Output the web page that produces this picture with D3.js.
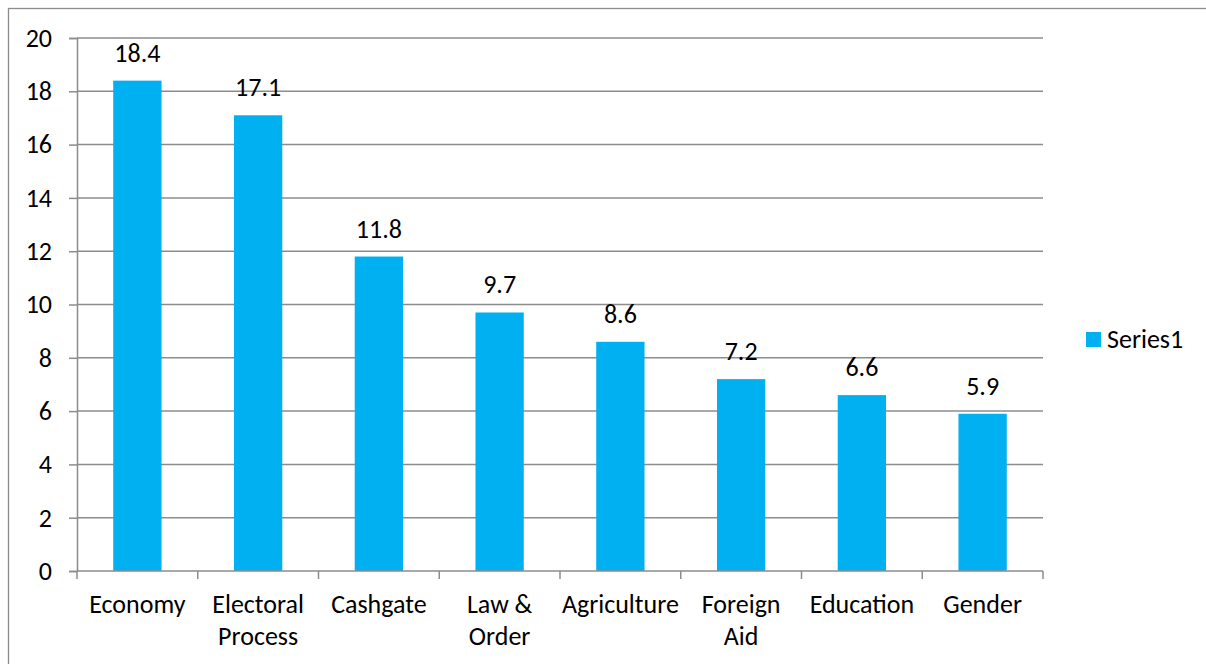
<!DOCTYPE html>
<html><head><meta charset="utf-8">
<script src="https://cdn.jsdelivr.net/npm/d3@7"></script>
<style>html,body{margin:0;padding:0;background:#fff;}svg{display:block;}</style>
</head><body>
<script>
const categories = [["Economy"],["Electoral","Process"],["Cashgate"],["Law &","Order"],["Agriculture"],["Foreign","Aid"],["Education"],["Gender"]];
const values = [18.4, 17.1, 11.8, 9.7, 8.6, 7.2, 6.6, 5.9];
const yTicks = [0,2,4,6,8,10,12,14,16,18,20];
const seriesName = "Series1";

(function() {
const W = 1206, H = 664;
const font = "Carlito, Lato, 'Liberation Sans', sans-serif";
const fs = 26;
const svg = d3.select("body").append("svg").attr("width", W).attr("height", H);

svg.append("rect").attr("x", 8.5).attr("y", 8.5).attr("width", 1300).attr("height", 800)
  .attr("fill", "none").attr("stroke", "#8c8c8c").attr("stroke-width", 1.3);

const pl = 77, pr = 1043, pt = 38, pb = 571;
const keys = categories.map(c => c.join(" "));
const x = d3.scaleBand().domain(keys).range([pl, pr]).paddingInner(0.6).paddingOuter(0.3);
const xb = d3.scaleBand().domain(keys).range([pl, pr]);
const y = d3.scaleLinear().domain([0, 20]).range([pb, pt]);

const grid = "#8c8c8c";
svg.append("g").selectAll("line").data(yTicks.filter(d => d > 0)).join("line")
  .attr("x1", pl).attr("x2", pr).attr("y1", d => y(d)).attr("y2", d => y(d))
  .attr("stroke", grid).attr("stroke-width", 1.5);

svg.append("g").selectAll("rect").data(values).join("rect")
  .attr("x", (d, i) => x(keys[i])).attr("width", x.bandwidth())
  .attr("y", d => y(d)).attr("height", d => y(0) - y(d))
  .attr("fill", "#00B0F0");

const yAxis = svg.append("g").attr("transform", `translate(${pl},0)`)
  .call(d3.axisLeft(y).tickValues(yTicks).tickSize(8).tickPadding(17).tickFormat(d3.format("d")));
yAxis.select(".domain").attr("stroke", grid).attr("stroke-width", 1.5);
yAxis.selectAll(".tick line").attr("stroke", grid).attr("stroke-width", 1.5);
yAxis.selectAll(".tick text").attr("font-family", font).attr("font-size", fs).attr("fill", "#000");

const xAxis = svg.append("g").attr("transform", `translate(0,${pb})`);
xAxis.append("line").attr("x1", pl).attr("x2", pr).attr("stroke", grid).attr("stroke-width", 1.5);
const bounds = keys.map(k => xb(k)).concat([pr]);
xAxis.selectAll("line.tk").data(bounds).join("line").attr("class", "tk")
  .attr("x1", d => d).attr("x2", d => d).attr("y1", 0).attr("y2", 8)
  .attr("stroke", grid).attr("stroke-width", 1.5);
const xl = xAxis.selectAll("text").data(categories).join("text")
  .attr("x", (d, i) => xb(keys[i]) + xb.bandwidth() / 2)
  .attr("y", 42).attr("text-anchor", "middle")
  .attr("font-family", font).attr("font-size", fs).attr("fill", "#000");
xl.each(function(d) {
  const t = d3.select(this);
  d.forEach((line, j) => t.append("tspan").attr("x", t.attr("x")).attr("dy", j ? 32 : 0).text(line));
});

svg.append("g").selectAll("text").data(values).join("text")
  .attr("x", (d, i) => x(keys[i]) + x.bandwidth() / 2)
  .attr("y", d => y(d) - 19).attr("text-anchor", "middle")
  .attr("font-family", font).attr("font-size", fs).attr("fill", "#000")
  .text(d => d3.format(".1f")(d));

const lg = svg.append("g").attr("transform", "translate(1086,332)");
lg.append("rect").attr("width", 15).attr("height", 15).attr("fill", "#00B0F0");
lg.append("text").attr("x", 21).attr("y", 16).attr("font-family", font).attr("font-size", fs).attr("fill", "#000").text(seriesName);
})();
</script>
</body></html>
